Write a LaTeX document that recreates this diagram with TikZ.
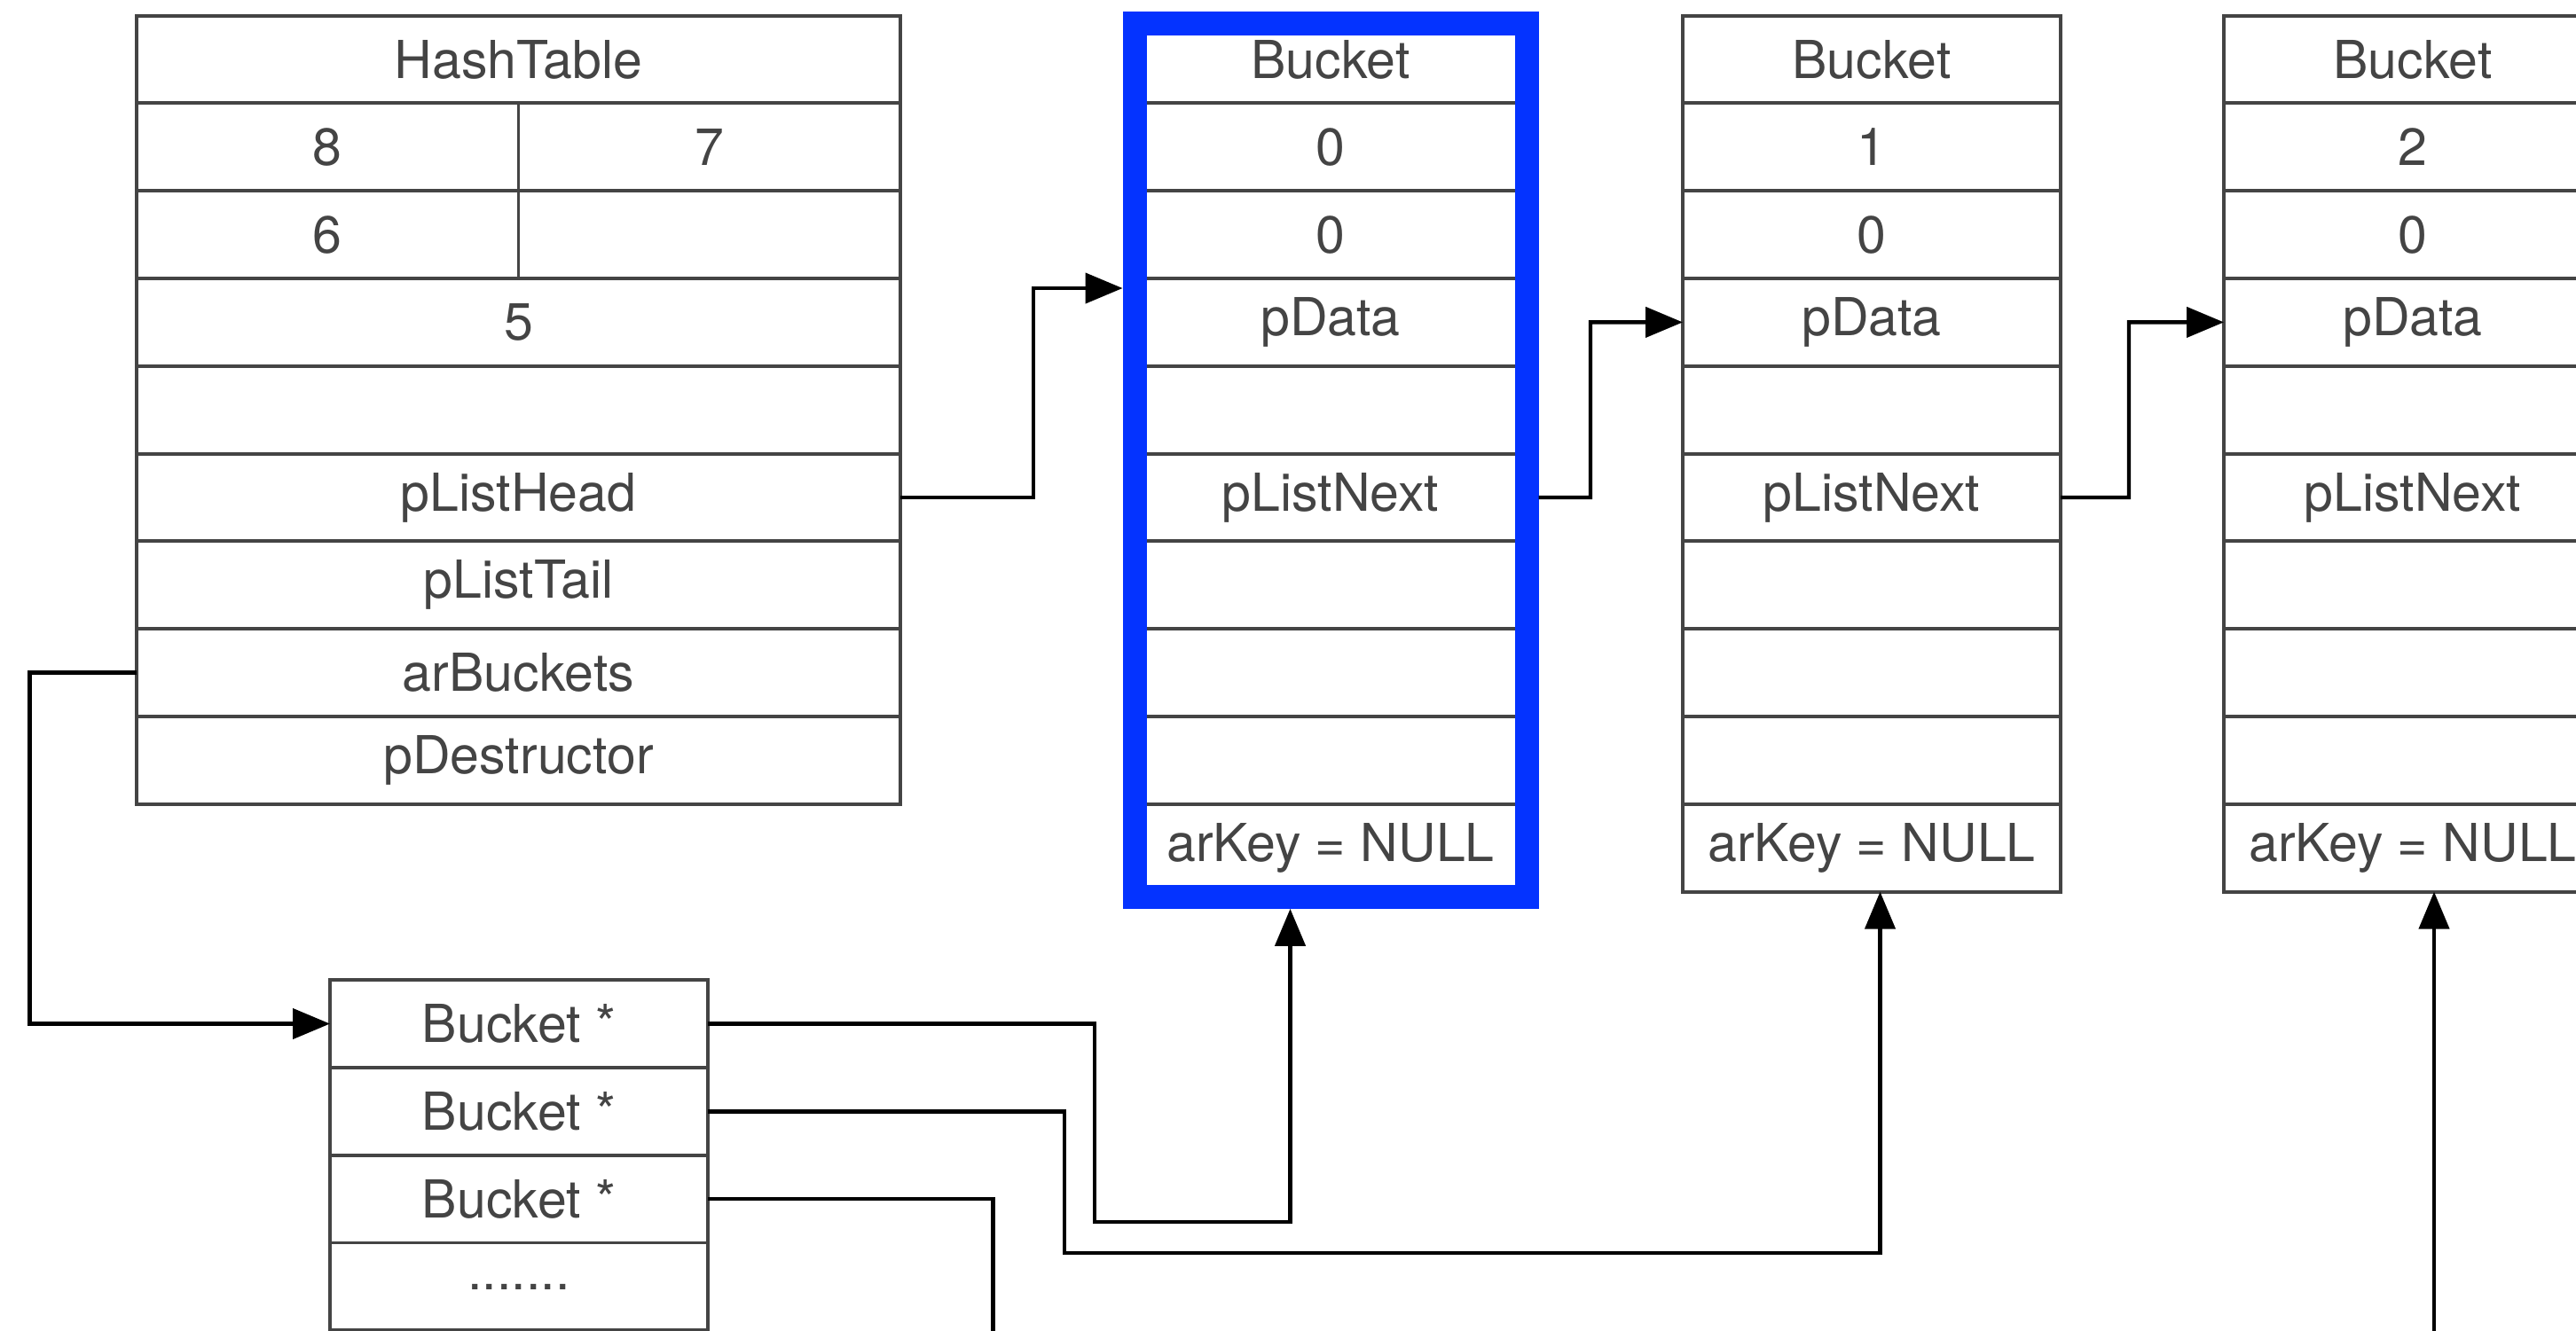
\documentclass[tikz,border=0pt]{standalone}
\usepackage{fontspec}
\setmainfont{TeX Gyre Heros}
\usetikzlibrary{arrows.meta,calc}
\definecolor{boxgray}{HTML}{444444}
\definecolor{txtgray}{HTML}{444444}
\definecolor{blueC}{HTML}{0433FF}
\tikzset{
  cell/.style={draw=boxgray, line width=1.1pt, minimum height=0.988cm, inner sep=0pt, outer sep=0pt,
    text=txtgray, font=\fontsize{16.8}{20}\selectfont},
  htcell/.style={cell, minimum width=8.61cm},
  halfcell/.style={cell, minimum width=4.305cm},
  bkcell/.style={cell, minimum width=4.26cm},
  conn/.style={draw=black, line width=1.25pt, -{Triangle[length=0.42cm,width=0.34cm]}},
  plainconn/.style={draw=black, line width=1.25pt},
  hilite/.style={draw=blueC, line width=0.27cm, minimum width=4.42cm, minimum height=9.844cm, inner sep=0pt}
}
\begin{document}
\begin{tikzpicture}
\useasboundingbox (0,0) rectangle (29.04,-15.00);
\clip (0,0) rectangle (29.04,-15.00);
% HashTable
\node[htcell] (ht0) at (5.845,-0.670) {HashTable};
\node[halfcell] (ht1a) at (3.6925,-1.658) {8};
\node[halfcell] (ht1b) at (7.9975,-1.658) {7};
\node[halfcell] (ht2a) at (3.6925,-2.646) {6};
\node[halfcell] (ht2b) at (7.9975,-2.646) {};
\node[htcell] (ht3) at (5.845,-3.634) {5};
\node[htcell] (ht4) at (5.845,-4.622) {};
\node[htcell] (ht5) at (5.845,-5.610) {pListHead};
\node[htcell] (ht6) at (5.845,-6.598) {pListTail};
\node[htcell] (ht7) at (5.845,-7.586) {arBuckets};
\node[htcell] (ht8) at (5.845,-8.574) {pDestructor};
% Buckets
\foreach \bx/\bn/\num in {15.00/b1/0, 21.10/b2/1, 27.20/b3/2}{
  \foreach \lab [count=\i from 0] in {Bucket,\num,0,pData,{},pListNext,{},{},{},arKey = NULL}{
    \node[bkcell] (\bn-\i) at ({\bx},{-(0.176+(\i+0.5)*0.988)}) {\lab};
  }
}
\node[hilite] (blue) at (15.00,-5.191) {};
% Bucket * array
\node[bkcell] (arr0) at (5.85,-11.545) {Bucket *};
\node[bkcell] (arr1) at (5.85,-12.533) {Bucket *};
\node[bkcell] (arr2) at (5.85,-13.521) {Bucket *};
\node[bkcell] (arr3) at (5.85,-14.509) {.......};
% free ends
\coordinate (blueIn) at (blue.west |- 0,-3.25);
\coordinate (cut1) at (11.196,-15.3);
\coordinate (cut2) at (27.44,-15.3);
% connectors
\draw[conn] (ht5.east) -- (11.65,-5.61) |- (blueIn);
\draw[conn] (b1-5.east -| blue.east) -- (17.93,-5.61) |- (b2-3.west);
\draw[conn] (b2-5.east) -- (24.00,-5.61) |- (b3-3.west);
\draw[conn] (ht7.west) -- (0.335,-7.586) |- (arr0.west);
\draw[conn] (arr0.east) -- (12.34,-11.545) -- (12.34,-13.78) -- (14.545,-13.78) -- (14.545,0 |- blue.south);
\draw[conn] (arr1.east) -- (12.00,-12.533) -- (12.00,-14.13) -- (21.195,-14.13) -- (21.195,0 |- b2-9.south);
\draw[plainconn] (arr2.east) -| (cut1);
\draw[conn] (cut2) -- (27.44,0 |- b3-9.south);
\end{tikzpicture}
\end{document}
